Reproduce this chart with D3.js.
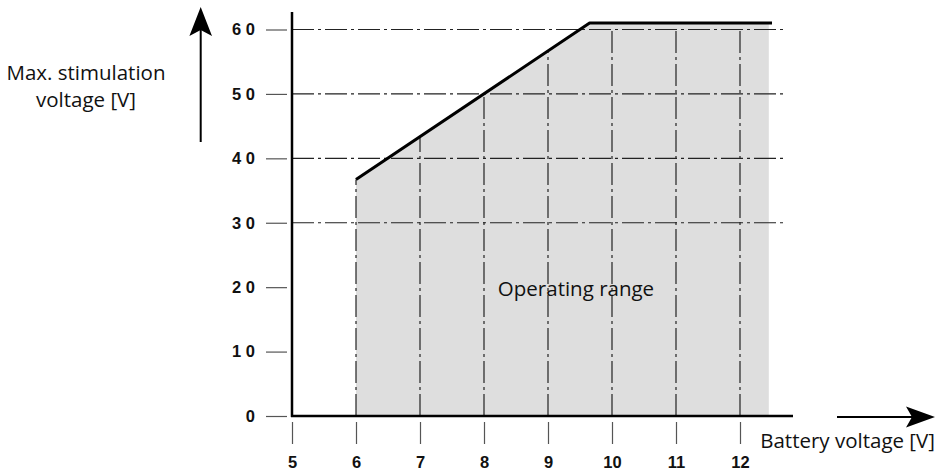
<!DOCTYPE html>
<html><head><meta charset="utf-8">
<script src="https://cdn.jsdelivr.net/npm/d3@7"></script>
<style>
html,body{margin:0;padding:0;background:#fff;}
svg{display:block;}
.lbl{font-family:"Open Sans",sans-serif;font-size:20.5px;fill:#111;}
.tk{font-family:"Liberation Sans",Arial,sans-serif;font-weight:bold;font-size:16.5px;fill:#111;}
</style>
</head><body>
<script>
// Data
const xTicks = [5, 6, 7, 8, 9, 10, 11, 12];
const yTicks = [0, 10, 20, 30, 40, 50, 60];
const yGrid = [30, 40, 50, 60];
const xGrid = [6, 7, 8, 9, 10, 11, 12];
const boundaryX = [6, 9.65, 12.5];      // max stimulation voltage curve
const boundaryY = [36.7, 61, 61];
const areaX = [6, 9.65, 12.45];         // operating range shading
const areaY = [36.7, 61, 61];
const xTitle = "Battery voltage [V]";
const yTitle = ["Max. stimulation", "voltage [V]"];
const areaLabel = "Operating range";

const W = 945, H = 473;
const svg = d3.select("body").append("svg").attr("width", W).attr("height", H);

const x = d3.scaleLinear().domain([5, 12]).range([292, 740]);
const y = d3.scaleLinear().domain([0, 60]).range([416, 29.5]);

const curveAt = v => {
  for (let i = 0; i < boundaryX.length - 1; i++) {
    if (v >= boundaryX[i] && v <= boundaryX[i + 1]) {
      const t = (v - boundaryX[i]) / (boundaryX[i + 1] - boundaryX[i]);
      return boundaryY[i] + t * (boundaryY[i + 1] - boundaryY[i]);
    }
  }
  return boundaryY[boundaryY.length - 1];
};

// shaded area
const areaPts = areaX.map((v, i) => [v, areaY[i]]);
svg.append("path")
  .datum(areaPts)
  .attr("d", d3.area().x(d => x(d[0])).y0(y(0)).y1(d => y(d[1])))
  .attr("fill", "#dedede");

const dash = "22,4,3,4";
// horizontal grid
svg.append("g").selectAll("line").data(yGrid).join("line")
  .attr("x1", x(5)).attr("x2", x(12) + 43)
  .attr("y1", d => y(d)).attr("y2", d => y(d))
  .attr("stroke", "#222").attr("stroke-width", 1.2)
  .attr("stroke-dasharray", dash);
// vertical grid
svg.append("g").selectAll("line").data(xGrid).join("line")
  .attr("x1", d => x(d)).attr("x2", d => x(d))
  .attr("y1", y(0)).attr("y2", d => y(Math.min(curveAt(d), 60)))
  .attr("stroke", "#222").attr("stroke-width", 1.2)
  .attr("stroke-dasharray", dash);

// boundary line
svg.append("path")
  .datum(boundaryX.map((v, i) => [v, boundaryY[i]]))
  .attr("d", d3.line().x(d => x(d[0])).y(d => y(d[1])))
  .attr("fill", "none").attr("stroke", "#000").attr("stroke-width", 3)
  .attr("stroke-linejoin", "round");

// y axis ticks (outside)
const yAxis = d3.axisLeft(y).tickValues(yTicks).tickSize(21).tickPadding(11)
  .tickFormat(d => String(d).split("").join(" "));
const gy = svg.append("g").attr("transform", `translate(${x(5) - 5},0)`).call(yAxis);
gy.select(".domain").remove();
gy.selectAll(".tick line").attr("stroke", "#555").attr("stroke-width", 1.2);
gy.selectAll(".tick text").attr("class", "tk").attr("font-size", null).attr("font-family", null);

// x axis ticks (below)
const xAxis = d3.axisBottom(x).tickValues(xTicks).tickSize(22).tickPadding(12).tickFormat(d3.format("d"));
const gx = svg.append("g").attr("transform", `translate(0,${y(0) + 6})`).call(xAxis);
gx.select(".domain").remove();
gx.selectAll(".tick line").attr("stroke", "#555").attr("stroke-width", 1.2);
gx.selectAll(".tick text").attr("class", "tk").attr("font-size", null).attr("font-family", null);

// axis lines
svg.append("line").attr("x1", x(5)).attr("x2", x(5)).attr("y1", 12).attr("y2", y(0) + 1)
  .attr("stroke", "#000").attr("stroke-width", 2.5);
svg.append("line").attr("x1", x(5) - 1).attr("x2", 793).attr("y1", y(0)).attr("y2", y(0))
  .attr("stroke", "#000").attr("stroke-width", 2.5);

// arrows
svg.append("line").attr("x1", 200.7).attr("x2", 200.7).attr("y1", 142).attr("y2", 28)
  .attr("stroke", "#000").attr("stroke-width", 2);
svg.append("path").attr("d", "M200.7,7 L212,36 L200.7,30 L189.4,36 Z").attr("fill", "#000");
svg.append("line").attr("x1", 837).attr("x2", 912).attr("y1", 417).attr("y2", 417)
  .attr("stroke", "#000").attr("stroke-width", 2);
svg.append("path").attr("d", "M935,417 L906,406.5 L912,417 L906,427.5 Z").attr("fill", "#000");

// titles
svg.append("text").attr("class", "lbl").attr("text-anchor", "middle")
  .selectAll("tspan").data(yTitle).join("tspan")
  .attr("x", 86).attr("y", (d, i) => 80 + i * 27).text(d => d);
svg.append("text").attr("class", "lbl").attr("text-anchor", "end")
  .attr("x", 935).attr("y", 448).attr("font-size", "21.5px").text(xTitle);
svg.append("text").attr("class", "lbl").attr("text-anchor", "middle")
  .attr("x", 576).attr("y", 296).text(areaLabel);
</script>
</body></html>
